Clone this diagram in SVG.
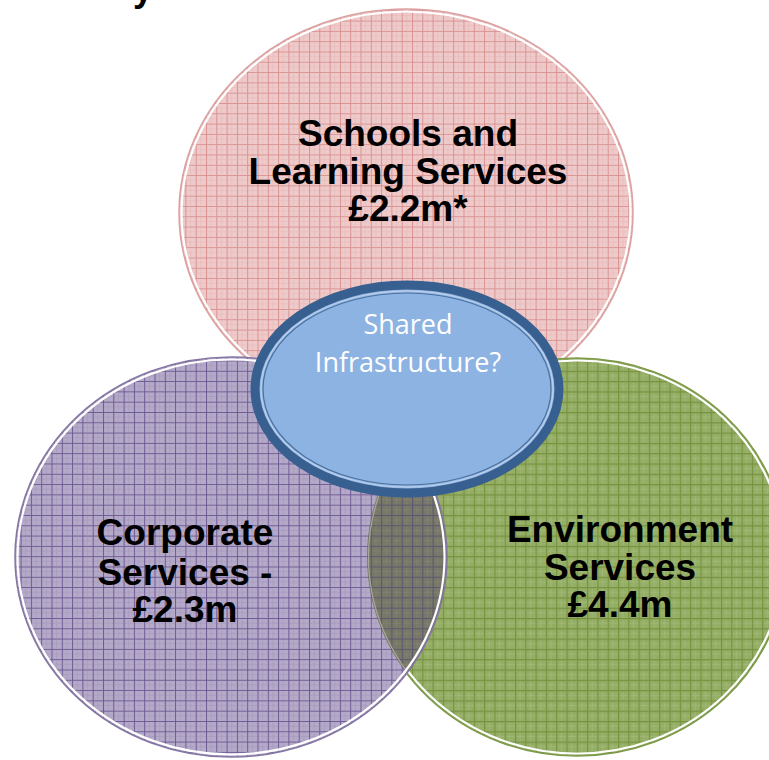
<svg xmlns="http://www.w3.org/2000/svg" width="769" height="760" viewBox="0 0 769 760">
<style>
.lbl{font-family:"Liberation Sans",Arial,sans-serif;font-weight:bold;font-size:37px;fill:#000;text-anchor:middle}
.shr{font-family:"Open Sans","Noto Sans",sans-serif;font-size:27px;fill:#fff;text-anchor:middle}
.ring{fill:none;stroke:#fff;stroke-width:2.2}
</style>
<defs>
<pattern id="pPink" width="10.3" height="10.3" patternUnits="userSpaceOnUse">
<rect width="10.3" height="10.3" fill="#efcaca"/>
<path d="M5.15 0V10.3M0 5.15H10.3" stroke="#e6b6b6" stroke-width="1" stroke-dasharray="1 1"/>
<path d="M0 0.5H10.3M0.5 0V10.3" stroke="#d99292" stroke-width="1"/>
</pattern>
<pattern id="pPurple" width="10.3" height="10.3" patternUnits="userSpaceOnUse">
<rect width="10.3" height="10.3" fill="#b4a9c8"/>
<path d="M5.15 0V10.3M0 5.15H10.3" stroke="#a294ba" stroke-width="1" stroke-dasharray="1 1"/>
<path d="M0 0.5H10.3M0.5 0V10.3" stroke="#6e5a93" stroke-width="1"/>
</pattern>
<pattern id="pGreen" width="10.3" height="10.3" patternUnits="userSpaceOnUse">
<rect width="10.3" height="10.3" fill="#94ae66"/>
<path d="M5.15 0V10.3M0 5.15H10.3" stroke="#a9c182" stroke-width="1" stroke-dasharray="1 1"/>
<path d="M0 0.5H10.3M0.5 0V10.3" stroke="#76923e" stroke-width="1.2"/>
</pattern>
<pattern id="pDark" width="10.3" height="10.3" patternUnits="userSpaceOnUse">
<rect width="10.3" height="10.3" fill="#77776a"/>
<path d="M5.15 0V10.3M0 5.15H10.3" stroke="#8a8a70" stroke-width="1" stroke-dasharray="1 1"/>
<path d="M0 0.5H10.3M0.5 0V10.3" stroke="#5e5670" stroke-width="1"/>
</pattern>
<clipPath id="clipGreen"><ellipse cx="577" cy="557" rx="210" ry="199"/></clipPath>
<clipPath id="clipPurple"><ellipse cx="231" cy="557" rx="216" ry="200"/></clipPath>
</defs>

<text x="133" y="1" font-family="Liberation Sans, Arial, sans-serif" font-weight="bold" font-size="36" fill="#000">y</text>

<g id="schools">
<ellipse cx="406" cy="213" rx="227" ry="204" fill="url(#pPink)" stroke="#dba0a0" stroke-width="1.5"/>
<ellipse class="ring" cx="406" cy="213" rx="224.5" ry="201.5"/>
<text class="lbl" x="408" y="146">Schools and</text>
<text class="lbl" x="408" y="184">Learning Services</text>
<text class="lbl" x="408" y="221">£2.2m*</text>
</g>

<g id="environment">
<ellipse cx="577" cy="557" rx="210" ry="199" fill="url(#pGreen)" stroke="#7d9a48" stroke-width="1.5"/>
<ellipse class="ring" cx="577" cy="557" rx="207.5" ry="196.5"/>
<text class="lbl" x="620" y="542">Environment</text>
<text class="lbl" x="620" y="580">Services</text>
<text class="lbl" x="620" y="617">£4.4m</text>
</g>

<g id="corporate">
<ellipse cx="231" cy="557" rx="216" ry="200" fill="url(#pPurple)"/>
<ellipse cx="231" cy="557" rx="216" ry="200" fill="url(#pDark)" clip-path="url(#clipGreen)"/>
<ellipse cx="577" cy="557" rx="208.5" ry="197.5" fill="none" stroke="#a8a898" stroke-width="1.2" clip-path="url(#clipPurple)"/>
<ellipse cx="231" cy="557" rx="216" ry="200" fill="none" stroke="#8576a3" stroke-width="1.5"/>
<ellipse class="ring" cx="231" cy="557" rx="213.5" ry="197.5"/>
<text class="lbl" x="185" y="545">Corporate</text>
<text class="lbl" x="185" y="585">Services -</text>
<text class="lbl" x="185" y="622">£2.3m</text>
</g>

<g id="shared">
<ellipse cx="407" cy="389" rx="152" ry="104" fill="#8db3e2" stroke="#375f8f" stroke-width="9"/>
<ellipse cx="407" cy="389" rx="146" ry="98" fill="none" stroke="#b8cde8" stroke-width="1.5"/>
<ellipse cx="407" cy="389" rx="144" ry="96" fill="none" stroke="#4a72a0" stroke-width="1.2"/>
<text class="shr" x="408" y="334">Shared</text>
<text class="shr" x="408" y="372">Infrastructure?</text>
</g>
</svg>
